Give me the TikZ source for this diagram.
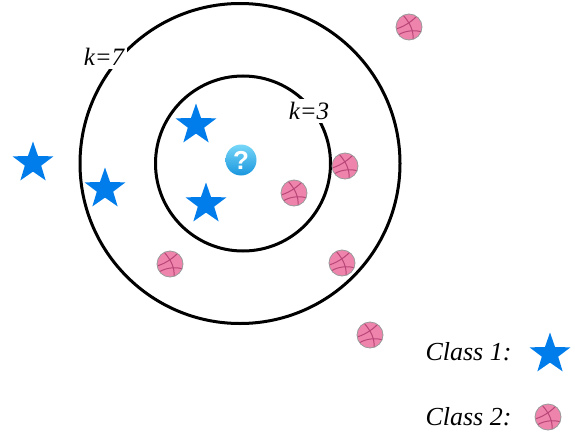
\documentclass[tikz,border=0pt]{standalone}
\usepackage{fontspec}
\setmainfont{Liberation Serif}
\newfontfamily\qfont{Liberation Sans}
\usetikzlibrary{shapes.geometric}
\definecolor{starblue}{RGB}{0,125,235}
\definecolor{ballpink}{RGB}{238,132,172}
\definecolor{seam}{RGB}{185,70,120}
\definecolor{qlight}{RGB}{120,215,248}
\definecolor{qdark}{RGB}{25,150,222}
\begin{document}
\begin{tikzpicture}[
  x=1pt, y=-1pt,
  ring/.style={line width=3pt},
  klabel/.style={fill=white, inner sep=3pt, font=\fontsize{25}{29}\selectfont\itshape},
  legend/.style={font=\fontsize{26}{30}\selectfont\itshape, anchor=west},
  starpt/.style={star, star points=5, star point ratio=2.5, fill=starblue, draw=none,
    minimum size=43pt, inner sep=0pt},
  ball/.style={circle, fill=ballpink, draw=black!40, line width=0.8pt, minimum size=26pt, inner sep=0pt,
    path picture={
      \begin{scope}[shift={(path picture bounding box.center)}, draw=seam, line width=1pt]
        \draw (-13,2) .. controls (-3,-1) and (4,-7) .. (8,-11);
        \draw (-6,-12) .. controls (1,-4) and (5,4) .. (4,13);
        \draw (-11,8) .. controls (-3,3) and (7,3) .. (13,5);
      \end{scope}}},
  query/.style={circle, top color=qlight, bottom color=qdark, minimum size=31pt, inner sep=0pt,
    text=white}
]
\useasboundingbox (0,0) rectangle (575,436);

\draw[ring] (240,163.5) circle (160);
\draw[ring] (243,163.5) circle (87.5);
\node[klabel] (k7) at (104,57) {k=7};
\node[klabel] (k3) at (309,111) {k=3};

\node[query] (q) at (241,160) {\qfont\bfseries\fontsize{26}{26}\selectfont ?};

\node[starpt] (s1) at (33,163) {};
\node[starpt] (s2) at (105,189) {};
\node[starpt] (s3) at (196,125) {};
\node[starpt] (s4) at (206,204) {};

\node[ball] (b1) at (409,27) {};
\node[ball] (b2) at (345,166) {};
\node[ball] (b3) at (294,193) {};
\node[ball] (b4) at (170,264) {};
\node[ball] (b5) at (342,263) {};
\node[ball] (b6) at (370,335) {};

\node[legend] (c1) at (422,352) {Class 1:};
\node[starpt] (ls) at (550,354) {};
\node[legend] (c2) at (422,417) {Class 2:};
\node[ball] (lb) at (548,417) {};
\end{tikzpicture}
\end{document}
